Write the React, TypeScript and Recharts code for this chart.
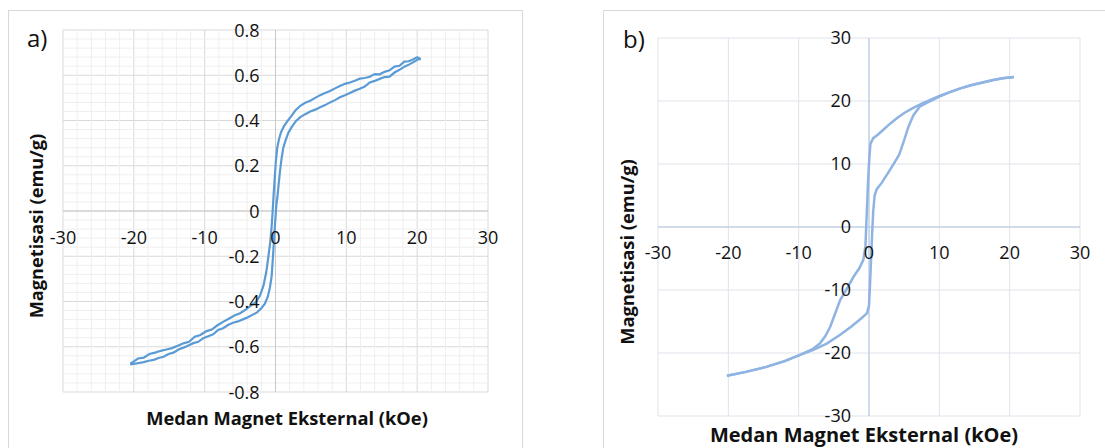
import React from "react";
import { LineChart, Line, XAxis, YAxis, CartesianGrid, ReferenceLine } from "recharts";

// ---- panel a) data (H in kOe, M in emu/g) ----
const ticksXA = [-30, -20, -10, 0, 10, 20, 30];
const ticksYA = [-0.8, -0.6, -0.4, -0.2, 0, 0.2, 0.4, 0.6, 0.8];
const minorXA = [-28, -26, -24, -22, -18, -16, -14, -12, -8, -6, -4, -2, 2, 4, 6, 8, 12, 14, 16, 18, 22, 24, 26, 28];
const minorYA = [
  -0.76, -0.72, -0.68, -0.64, -0.56, -0.52, -0.48, -0.44, -0.36, -0.32, -0.28, -0.24, -0.16, -0.12, -0.08, -0.04,
  0.04, 0.08, 0.12, 0.16, 0.24, 0.28, 0.32, 0.36, 0.44, 0.48, 0.52, 0.56, 0.64, 0.68, 0.72, 0.76,
];

// descending branch (from +H)
const upperA = [
  { h: 20.5, m: 0.672 }, { h: 20.0, m: 0.68 }, { h: 19.4, m: 0.67 }, { h: 18.8, m: 0.662 }, { h: 18.2, m: 0.66 },
  { h: 17.5, m: 0.642 }, { h: 16.8, m: 0.638 }, { h: 16.1, m: 0.622 }, { h: 15.4, m: 0.615 }, { h: 14.7, m: 0.604 },
  { h: 14.0, m: 0.605 }, { h: 13.3, m: 0.593 }, { h: 12.6, m: 0.588 }, { h: 11.9, m: 0.585 }, { h: 11.2, m: 0.576 },
  { h: 10.5, m: 0.568 }, { h: 9.8, m: 0.562 }, { h: 9.1, m: 0.552 }, { h: 8.4, m: 0.542 }, { h: 7.7, m: 0.53 },
  { h: 7.0, m: 0.522 }, { h: 6.3, m: 0.512 }, { h: 5.6, m: 0.5 }, { h: 4.9, m: 0.487 }, { h: 4.2, m: 0.478 },
  { h: 3.5, m: 0.465 }, { h: 2.8, m: 0.444 }, { h: 2.2, m: 0.418 }, { h: 1.7, m: 0.398 }, { h: 1.2, m: 0.375 },
  { h: 0.8, m: 0.35 }, { h: 0.5, m: 0.318 }, { h: 0.25, m: 0.28 }, { h: 0.05, m: 0.22 }, { h: -0.1, m: 0.15 },
  { h: -0.25, m: 0.08 }, { h: -0.4, m: 0.0 }, { h: -0.55, m: -0.07 }, { h: -0.75, m: -0.14 }, { h: -1.0, m: -0.2 },
  { h: -1.3, m: -0.27 }, { h: -1.7, m: -0.33 }, { h: -2.2, m: -0.375 }, { h: -2.8, m: -0.404 }, { h: -3.5, m: -0.418 },
  { h: -4.2, m: -0.436 }, { h: -5.0, m: -0.452 }, { h: -5.8, m: -0.462 }, { h: -6.6, m: -0.476 }, { h: -7.4, m: -0.49 },
  { h: -8.2, m: -0.505 }, { h: -9.0, m: -0.524 }, { h: -9.8, m: -0.532 }, { h: -10.6, m: -0.548 }, { h: -11.4, m: -0.556 },
  { h: -12.2, m: -0.578 }, { h: -13.0, m: -0.585 }, { h: -13.8, m: -0.596 }, { h: -14.6, m: -0.606 }, { h: -15.4, m: -0.612 },
  { h: -16.2, m: -0.618 }, { h: -17.0, m: -0.626 }, { h: -17.8, m: -0.632 }, { h: -18.6, m: -0.648 }, { h: -19.4, m: -0.652 },
  { h: -20.0, m: -0.665 }, { h: -20.5, m: -0.675 },
];

// ascending branch (from -H)
const lowerA = [
  { h: -20.5, m: -0.678 }, { h: -20.0, m: -0.676 }, { h: -19.3, m: -0.672 }, { h: -18.6, m: -0.668 }, { h: -17.9, m: -0.662 },
  { h: -17.2, m: -0.658 }, { h: -16.5, m: -0.65 }, { h: -15.8, m: -0.644 }, { h: -15.1, m: -0.632 }, { h: -14.4, m: -0.626 },
  { h: -13.7, m: -0.612 }, { h: -13.0, m: -0.604 }, { h: -12.3, m: -0.594 }, { h: -11.6, m: -0.584 }, { h: -10.9, m: -0.578 },
  { h: -10.2, m: -0.562 }, { h: -9.5, m: -0.554 }, { h: -8.8, m: -0.545 }, { h: -8.1, m: -0.526 }, { h: -7.4, m: -0.518 },
  { h: -6.7, m: -0.504 }, { h: -6.0, m: -0.494 }, { h: -5.3, m: -0.488 }, { h: -4.6, m: -0.479 }, { h: -3.9, m: -0.47 },
  { h: -3.2, m: -0.458 }, { h: -2.6, m: -0.448 }, { h: -2.0, m: -0.43 }, { h: -1.5, m: -0.41 }, { h: -1.1, m: -0.38 },
  { h: -0.8, m: -0.34 }, { h: -0.55, m: -0.29 }, { h: -0.35, m: -0.2 }, { h: -0.2, m: -0.12 }, { h: -0.05, m: -0.05 },
  { h: 0.1, m: 0.02 }, { h: 0.3, m: 0.07 }, { h: 0.45, m: 0.12 }, { h: 0.65, m: 0.18 }, { h: 0.85, m: 0.23 },
  { h: 1.1, m: 0.28 }, { h: 1.4, m: 0.31 }, { h: 1.8, m: 0.345 }, { h: 2.3, m: 0.372 }, { h: 2.9, m: 0.398 },
  { h: 3.5, m: 0.415 }, { h: 4.2, m: 0.428 }, { h: 4.9, m: 0.44 }, { h: 5.6, m: 0.448 }, { h: 6.3, m: 0.459 },
  { h: 7.0, m: 0.468 }, { h: 7.7, m: 0.48 }, { h: 8.4, m: 0.49 }, { h: 9.1, m: 0.503 }, { h: 9.8, m: 0.512 },
  { h: 10.5, m: 0.522 }, { h: 11.2, m: 0.532 }, { h: 11.9, m: 0.54 }, { h: 12.6, m: 0.55 }, { h: 13.3, m: 0.568 },
  { h: 14.0, m: 0.575 }, { h: 14.7, m: 0.584 }, { h: 15.4, m: 0.592 }, { h: 16.1, m: 0.594 }, { h: 16.8, m: 0.612 },
  { h: 17.5, m: 0.624 }, { h: 18.2, m: 0.638 }, { h: 18.9, m: 0.648 }, { h: 19.6, m: 0.66 }, { h: 20.2, m: 0.672 },
  { h: 20.5, m: 0.67 },
];

// ---- panel b) data ----
const ticksXB = [-30, -20, -10, 0, 10, 20, 30];
const ticksYB = [-30, -20, -10, 0, 10, 20, 30];

const upperB = [
  { h: 20.6, m: 23.8 }, { h: 19.0, m: 23.6 }, { h: 17.5, m: 23.3 }, { h: 16.0, m: 22.9 }, { h: 14.5, m: 22.5 },
  { h: 13.0, m: 22.0 }, { h: 11.5, m: 21.4 }, { h: 10.0, m: 20.8 }, { h: 8.8, m: 20.2 }, { h: 7.5, m: 19.6 },
  { h: 6.3, m: 18.9 }, { h: 5.0, m: 18.1 }, { h: 4.0, m: 17.3 }, { h: 3.0, m: 16.4 }, { h: 2.0, m: 15.4 },
  { h: 1.2, m: 14.6 }, { h: 0.6, m: 14.1 }, { h: 0.2, m: 13.2 }, { h: 0.05, m: 11.0 }, { h: -0.1, m: 8.0 },
  { h: -0.25, m: 4.0 }, { h: -0.4, m: 0.0 }, { h: -0.5, m: -3.0 }, { h: -0.8, m: -5.2 }, { h: -1.4, m: -6.6 },
  { h: -2.2, m: -7.9 }, { h: -3.1, m: -9.7 }, { h: -4.1, m: -11.6 }, { h: -4.8, m: -13.7 }, { h: -5.5, m: -15.8 },
  { h: -6.2, m: -17.3 }, { h: -7.0, m: -18.5 }, { h: -7.9, m: -19.3 }, { h: -9.8, m: -20.3 }, { h: -12.0, m: -21.3 },
  { h: -14.6, m: -22.2 }, { h: -17.5, m: -23.0 }, { h: -20.2, m: -23.6 },
];

const lowerB = [
  { h: -20.2, m: -23.6 }, { h: -17.5, m: -23.0 }, { h: -14.6, m: -22.2 }, { h: -12.0, m: -21.3 }, { h: -9.8, m: -20.3 },
  { h: -7.9, m: -19.5 }, { h: -6.0, m: -18.5 }, { h: -4.1, m: -17.1 }, { h: -2.5, m: -15.8 }, { h: -1.2, m: -14.6 },
  { h: -0.3, m: -13.7 }, { h: 0.0, m: -12.5 }, { h: 0.15, m: -9.0 }, { h: 0.3, m: -5.0 }, { h: 0.45, m: -1.0 },
  { h: 0.6, m: 2.5 }, { h: 0.8, m: 5.0 }, { h: 1.1, m: 6.0 }, { h: 1.8, m: 7.0 }, { h: 2.6, m: 8.4 },
  { h: 3.5, m: 10.0 }, { h: 4.3, m: 11.5 }, { h: 5.0, m: 13.8 }, { h: 5.6, m: 15.9 }, { h: 6.3, m: 17.7 },
  { h: 7.2, m: 19.1 }, { h: 8.2, m: 19.7 }, { h: 10.0, m: 20.7 }, { h: 11.5, m: 21.4 }, { h: 13.0, m: 22.0 },
  { h: 14.5, m: 22.5 }, { h: 16.0, m: 22.9 }, { h: 17.5, m: 23.3 }, { h: 19.0, m: 23.6 }, { h: 20.6, m: 23.8 },
];

const FONT = "'Open Sans', sans-serif";
const H = 448;
const AXW = 40; // room reserved for the (relocated) axis ticks

// plot boxes (px)
const A = { left: 63, top: 30, right: 488, bottom: 392, width: 525 };
const B = { left: 58, top: 38, right: 480, bottom: 416, width: 505, x0: 600 };

// zero lines of each plot, so the tick labels sit next to the crossing axes
const zeroYA = A.top + (A.bottom - A.top) / 2;
const zeroXA = A.left + (A.right - A.left) / 2;
const zeroYB = B.top + (B.bottom - B.top) / 2;
const zeroXB = B.left + (B.right - B.left) / 2;

const tickText = (x: number, y: number, anchor: string, v: number) => (
  <text x={x} y={y} textAnchor={anchor} fontSize={18} fontFamily={FONT} fill="#111">
    {String(v)}
  </text>
);

const XTickA = (p: any) => tickText(p.x, zeroYA + 33, "middle", p.payload.value);
const YTickA = (p: any) => tickText(zeroXA - 16, p.y + 6.5, "end", p.payload.value);
const XTickB = (p: any) => tickText(p.x, zeroYB + 32, "middle", p.payload.value);
const YTickB = (p: any) => tickText(zeroXB - 18, p.y + 6, "end", p.payload.value);

const title = (text: string, cx: number, cy: number, size: number, rotate = false) => (
  <div
    style={{
      position: "absolute",
      left: cx,
      top: cy,
      transform: `translate(-50%, -50%)${rotate ? " rotate(-90deg)" : ""}`,
      whiteSpace: "nowrap",
      fontFamily: FONT,
      fontWeight: 700,
      fontSize: size,
      color: "#111",
      lineHeight: 0.9,
    }}
  >
    {text}
  </div>
);

export default function App() {
  return (
    <div style={{ position: "absolute", left: 0, top: 0, width: 1105, height: H, overflow: "hidden", background: "#fff" }}>
      {/* frames */}
      <div style={{ position: "absolute", left: 8, top: 10, width: 513, height: H, border: "1px solid #d9d9d9" }} />
      <div style={{ position: "absolute", left: 603, top: 10, width: 600, height: H, border: "1px solid #d9d9d9" }} />

      {/* panel a */}
      <div style={{ position: "absolute", left: 0, top: 0 }}>
        <LineChart
          width={A.width}
          height={H}
          margin={{ top: A.top, right: A.width - A.right, bottom: H - A.bottom - AXW, left: A.left - AXW }}
        >
          {minorXA.map((v) => (
            <ReferenceLine key={`mx${v}`} x={v} stroke="#efefef" strokeWidth={1} />
          ))}
          {minorYA.map((v) => (
            <ReferenceLine key={`my${v}`} y={v} stroke="#efefef" strokeWidth={1} />
          ))}
          <CartesianGrid stroke="#d9d9d9" />
          <XAxis
            type="number"
            dataKey="h"
            domain={[-30, 30]}
            ticks={ticksXA}
            interval={0}
            height={AXW}
            axisLine={false}
            tickLine={false}
            tick={XTickA}
          />
          <YAxis
            type="number"
            dataKey="m"
            domain={[-0.8, 0.8]}
            ticks={ticksYA}
            interval={0}
            width={AXW}
            axisLine={false}
            tickLine={false}
            tick={YTickA}
          />
          <ReferenceLine x={0} stroke="#c8c8c8" />
          <ReferenceLine y={0} stroke="#c8c8c8" />
          <Line data={upperA} dataKey="m" type="linear" stroke="#5b9bd5" strokeWidth={2.2} dot={false} isAnimationActive={false} />
          <Line data={lowerA} dataKey="m" type="linear" stroke="#5b9bd5" strokeWidth={2.2} dot={false} isAnimationActive={false} />
        </LineChart>
      </div>
      <div style={{ position: "absolute", left: 27, top: 26, fontFamily: FONT, fontSize: 24, color: "#111", lineHeight: 1 }}>a)</div>
      {title("Medan Magnet Eksternal (kOe)", 287, 418, 18.3)}
      {title("Magnetisasi (emu/g)", 36, 226, 18.2, true)}

      {/* panel b */}
      <div style={{ position: "absolute", left: B.x0, top: 0 }}>
        <LineChart
          width={B.width}
          height={H}
          margin={{ top: B.top, right: B.width - B.right, bottom: H - B.bottom - AXW, left: B.left - AXW }}
        >
          <CartesianGrid stroke="#dfe3ea" />
          <XAxis
            type="number"
            dataKey="h"
            domain={[-30, 30]}
            ticks={ticksXB}
            interval={0}
            height={AXW}
            axisLine={false}
            tickLine={false}
            tick={XTickB}
          />
          <YAxis
            type="number"
            dataKey="m"
            domain={[-30, 30]}
            ticks={ticksYB}
            interval={0}
            width={AXW}
            axisLine={false}
            tickLine={false}
            tick={YTickB}
          />
          <ReferenceLine x={0} stroke="#b4c4de" />
          <ReferenceLine y={0} stroke="#b4c4de" />
          <Line data={upperB} dataKey="m" type="linear" stroke="#8fb4e3" strokeWidth={2.5} dot={false} isAnimationActive={false} />
          <Line data={lowerB} dataKey="m" type="linear" stroke="#8fb4e3" strokeWidth={2.5} dot={false} isAnimationActive={false} />
        </LineChart>
      </div>
      <div style={{ position: "absolute", left: 623, top: 27, fontFamily: FONT, fontSize: 24, color: "#111", lineHeight: 1 }}>b)</div>
      {title("Medan Magnet Eksternal (kOe)", 864, 434.5, 20)}
      {title("Magnetisasi (emu/g)", 627, 252, 18.3, true)}
    </div>
  );
}
